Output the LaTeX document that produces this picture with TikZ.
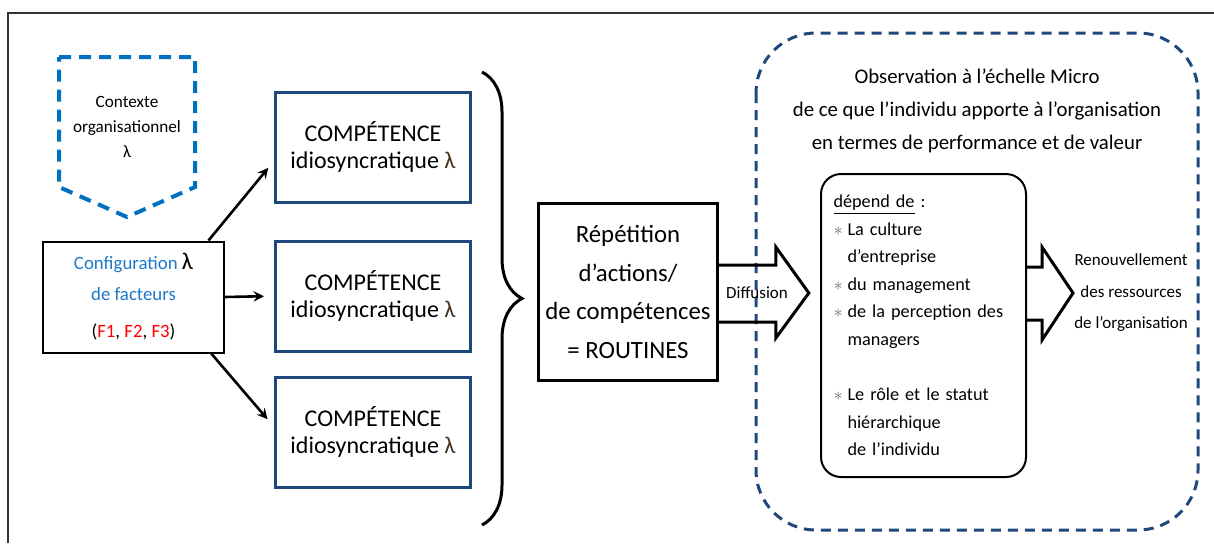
\documentclass[tikz,border=0pt]{standalone}
\usepackage{fontspec}
\setmainfont{Carlito}
\usetikzlibrary{calc,decorations.pathreplacing}
\definecolor{ctxblue}{RGB}{0,112,192}
\definecolor{navy}{RGB}{31,73,125}
\definecolor{cfgblue}{RGB}{30,120,200}
\definecolor{lam}{RGB}{70,50,30}
\newcommand\bl{\makebox[7pt][l]{\color{black!55}$\ast$}}
\newcommand\ind{\hspace*{7pt}}
\begin{document}
\begin{tikzpicture}[>=stealth,x=0.5pt,y=-0.5pt,
  comp/.style={draw=navy,line width=1.5pt,minimum width=97.5pt,minimum height=55pt,align=center,font=\fontsize{12}{13.2}\selectfont},
  fat/.style={line width=1.5pt,line join=miter},
  lk/.style={->,line width=1.3pt}]
\useasboundingbox (0,0) rectangle (1214,543);
\draw[black!80,line width=0.8pt] (8,543)--(8,13)--(1214,13);
\draw[ctxblue,line width=2pt,dash pattern=on 6pt off 4pt] (59,57)--(195,57)--(195,187)--(127,217)--(59,187)--cycle;
\node[align=center,font=\fontsize{8.6}{12.5}\selectfont] (ctx) at (127,127) {Contexte\\organisationnel\\λ};
\node[draw,line width=1pt,minimum width=90.5pt,minimum height=55.5pt,align=center,font=\fontsize{9.4}{15.5}\selectfont] (conf) at (133.5,297)
  {{\color{cfgblue}Configuration} {\fontsize{12}{12}\selectfont λ}\\{\color{cfgblue}de facteurs}\\[3pt]({\color{red}F1}, {\color{red}F2}, {\color{red}F3})};
\node[comp] (compA) at (373,147) {COMPÉTENCE\\idiosyncratique {\color{lam}λ}};
\node[comp] (compB) at (373,296) {COMPÉTENCE\\idiosyncratique {\color{lam}λ}};
\node[comp] (compC) at (373,432) {COMPÉTENCE\\idiosyncratique {\color{lam}λ}};
\draw[lk,shorten >=4.5pt] (conf.37)--(compA.188);
\draw[lk,shorten >=5pt] (conf.east)--(compB.west);
\draw[lk,shorten >=5pt] (conf.-36)--(compC.177);
\draw[line width=1.5pt,decorate,decoration={brace,amplitude=20pt}] (482,72)--(482,525);
\node[draw,line width=1.5pt,minimum width=88.5pt,minimum height=88.5pt,align=center,font=\fontsize{12.4}{19.2}\selectfont] (rep) at (628,292)
  {Répétition\\d'actions/\\de compétences\\= ROUTINES};
\draw[navy,line width=1.5pt,dash pattern=on 5pt off 3.5pt,rounded corners=30pt] (756,33) rectangle (1198,530);
\draw[fat,shift={(rep.east)}] (0,-27)--(57,-27)--(57,-45)--(90,1)--(57,46)--(57,30)--(0,30);
\node[font=\fontsize{8.5}{9}\selectfont] (diff) at (757,293) {Diffusion};
\node[align=center,font=\fontsize{10.4}{16.6}\selectfont] (obs) at (977,111)
  {Observation à l'échelle Micro\\de ce que l'individu apporte à l'organisation\\en termes de performance et de valeur};
\node[draw,rounded corners=10pt,line width=1pt,minimum width=102.5pt,minimum height=151.5pt,text width=90pt,align=left,font=\fontsize{9.1}{13.8}\selectfont] (dep) at (923.5,325.5)
  {\underline{dépend de} :\\
   \bl La culture\\
   \ind d'entreprise\\
   \bl du management\\
   \bl de la perception des\\
   \ind managers\\[13.8pt]
   \bl Le rôle et le statut\\
   \ind hiérarchique\\
   \ind de l'individu};
\draw[fat,shift={(dep.east|-rep.east)}] (0,-25)--(15,-25)--(15,-45)--(46,1)--(15,48)--(15,28)--(0,28);
\node[align=center,font=\fontsize{8.5}{15.75}\selectfont] (ren) at (1131,293) {Renouvellement\\des ressources\\de l'organisation};
\end{tikzpicture}
\end{document}
